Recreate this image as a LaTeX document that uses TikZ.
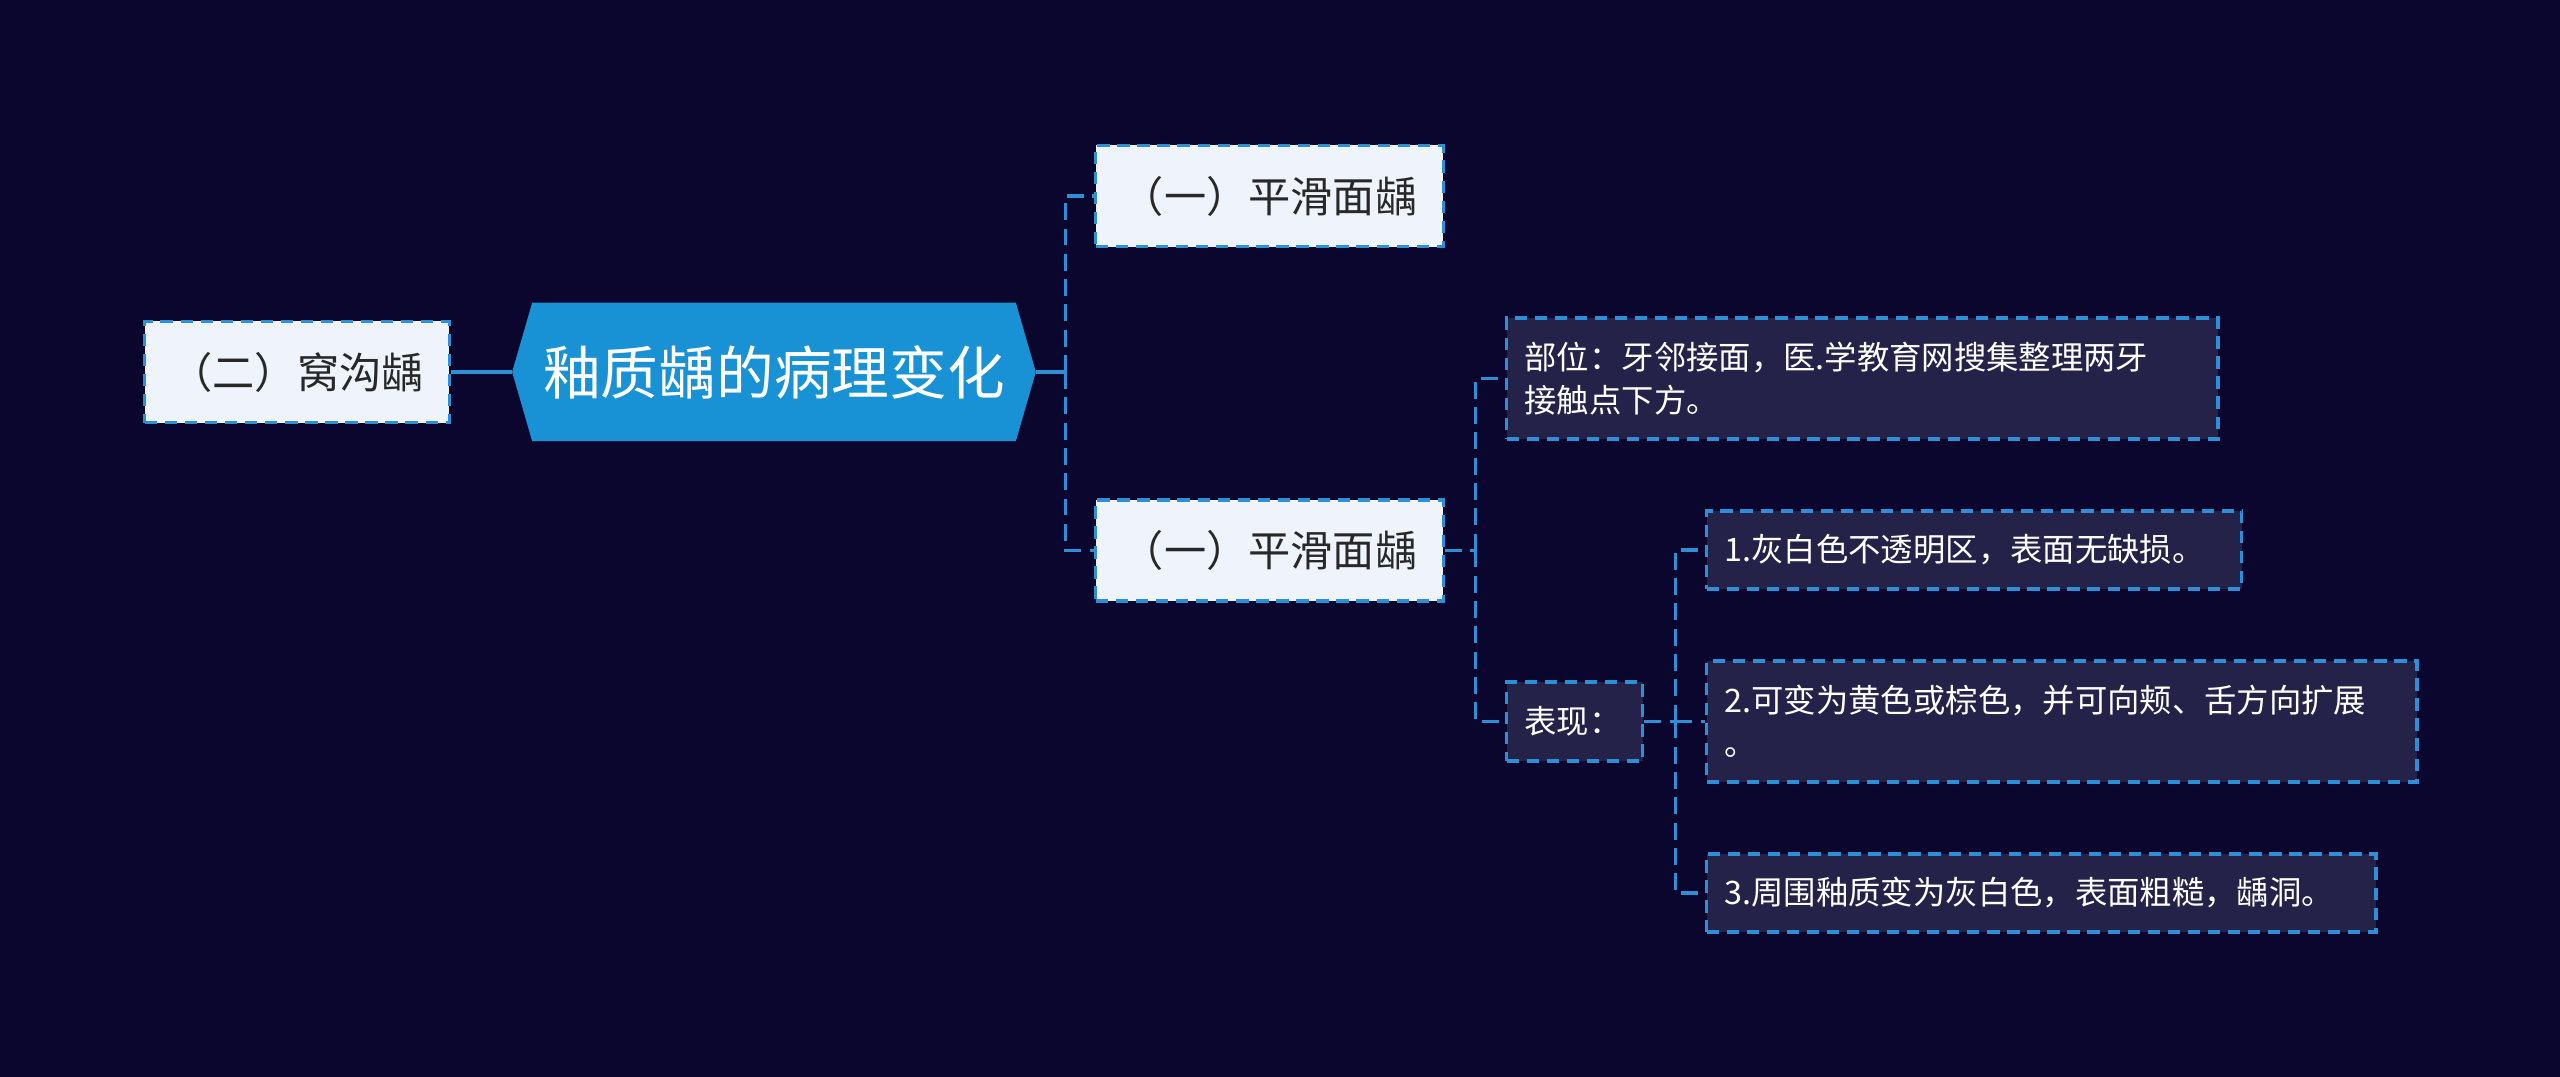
\documentclass[tikz,border=0pt]{standalone}
\usepackage{fontspec}
\setmainfont{Noto Sans CJK SC}
\usetikzlibrary{backgrounds}
\definecolor{bgnavy}{RGB}{10,6,46}
\definecolor{rootblue}{RGB}{24,146,212}
\definecolor{linkblue}{RGB}{45,143,213}
\definecolor{topicfill}{RGB}{238,243,252}
\definecolor{leaffill}{RGB}{37,34,74}
\definecolor{topictext}{RGB}{40,40,40}

\begin{document}
\begin{tikzpicture}[x=0.01cm, y=-0.01cm,
    rootnode/.style={minimum width=5.22cm, minimum height=1.37cm, inner sep=0pt,
      text=white, font=\fontsize{16.4}{20}\selectfont},
    topic/.style={draw=linkblue, dash pattern=on 3.5pt off 2.2pt, line width=0.9pt,
      fill=topicfill, text=topictext, minimum height=1.01cm, inner sep=0pt,
      font=\fontsize{12}{14}\selectfont},
    leaf/.style={draw=linkblue, dash pattern=on 3.5pt off 2.2pt, line width=0.9pt,
      fill=leaffill, text=white, anchor=west, align=left, inner xsep=0.18cm,
      inner ysep=0pt, font=\fontsize{9.2}{12.3}\selectfont},
    link/.style={linkblue, line width=0.9pt, dash pattern=on 4.8pt off 2.4pt},
    stem/.style={linkblue, line width=1.2pt}]

    \node[rootnode] (root) at (774,372) {釉质龋的病理变化};
    \begin{scope}[on background layer]
      \fill[bgnavy] (0,0) rectangle (2560,1077);
      \fill[rootblue] (root.west) -- ([xshift=0.2cm]root.north west)
        -- ([xshift=-0.2cm]root.north east) -- (root.east)
        -- ([xshift=-0.2cm]root.south east) -- ([xshift=0.2cm]root.south west) -- cycle;
    \end{scope}

    \node[topic, minimum width=3.04cm] (ditch) at (297,372) {（二）窝沟龋};
    \node[topic, minimum width=3.47cm] (smooth1) at (1269.5,196) {（一）平滑面龋};
    \node[topic, minimum width=3.47cm] (smooth2) at (1269.5,550.5) {（一）平滑面龋};

    \node[leaf, text width=6.75cm, minimum height=1.21cm] (site) at (1505,378.5)
      {部位：牙邻接面，医.学教育网搜集整理两牙\\接触点下方。};
    \node[leaf, text width=1.0cm, minimum height=0.79cm] (show) at (1505,721.5) {表现：};
    \node[leaf, text width=4.99cm, minimum height=0.78cm] (item1) at (1705,550)
      {1.灰白色不透明区，表面无缺损。};
    \node[leaf, text width=6.74cm, minimum height=1.21cm] (item2) at (1705,721.5)
      {2.可变为黄色或棕色，并可向颊、舌方向扩展\\。};
    \node[leaf, text width=6.33cm, minimum height=0.78cm] (item3) at (1705,893)
      {3.周围釉质变为灰白色，表面粗糙，龋洞。};

    \draw[stem] (ditch.east) -- (root.west);
    \draw[stem] (root.east) -- ++(30,0) coordinate (fork1);
    \draw[link] (fork1) |- (smooth1.west);
    \draw[link] (fork1) |- (smooth2.west);

    \draw[link] (smooth2.east) -- ++(31,0) coordinate (fork2);
    \draw[link] (fork2) |- (site.west);
    \draw[link] (fork2) |- (show.west);

    \draw[link] (show.east) -- ++(31,0) coordinate (fork3);
    \draw[link] (fork3) |- (item1.west);
    \draw[link] (fork3) |- (item2.west);
    \draw[link] (fork3) |- (item3.west);
\end{tikzpicture}
\end{document}
